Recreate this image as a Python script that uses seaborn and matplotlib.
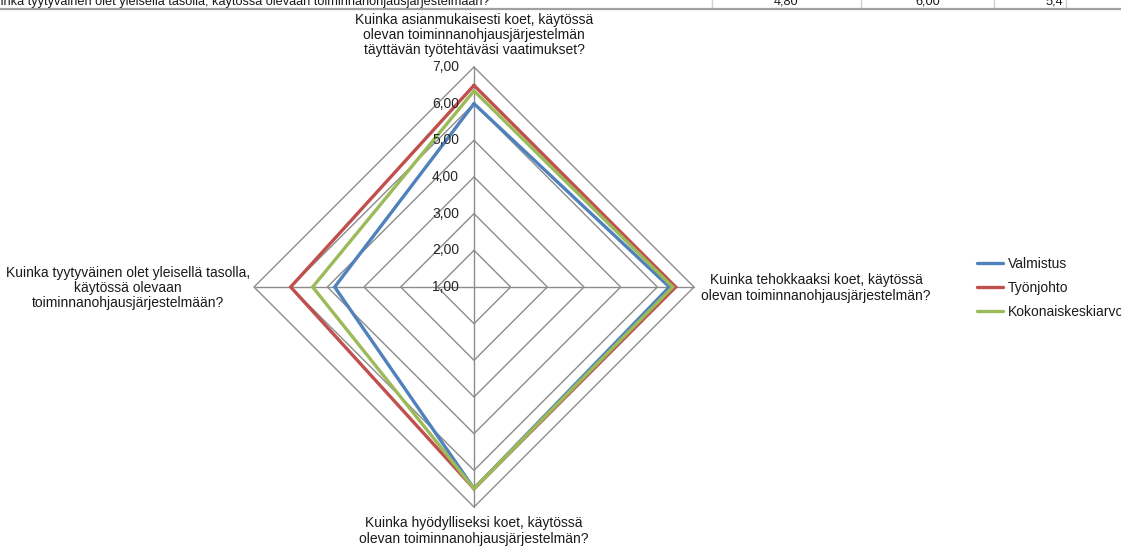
import numpy as np
import pandas as pd
import matplotlib
matplotlib.use("Agg")
import matplotlib.pyplot as plt
from matplotlib.lines import Line2D
import seaborn as sns

# Questions (clockwise from the top)
categories = [
    "Kuinka asianmukaisesti koet, käytössä\nolevan toiminnanohjausjärjestelmän\ntäyttävän työtehtäväsi vaatimukset?",
    "Kuinka tehokkaaksi koet, käytössä\nolevan toiminnanohjausjärjestelmän?",
    "Kuinka hyödylliseksi koet, käytössä\nolevan toiminnanohjausjärjestelmän?",
    "Kuinka tyytyväinen olet yleisellä tasolla,\nkäytössä olevaan\ntoiminnanohjausjärjestelmään?",
]
series_names = ["Valmistus", "Työnjohto", "Kokonaiskeskiarvo"]
valmistus = [6.00, 6.33, 6.50, 4.80]
tyonjohto = [6.50, 6.50, 6.50, 6.00]
kokonaiskeskiarvo = [6.35, 6.42, 6.50, 5.40]
r_ticks = [1, 2, 3, 4, 5, 6, 7]
row_label = "Kuinka tyytyväinen olet yleisellä tasolla, käytössä olevaan toiminnanohjausjärjestelmään?"

colors = {"Valmistus": "#4F81BD", "Työnjohto": "#C0504D", "Kokonaiskeskiarvo": "#9BBB59"}
grid_color = "#8C8C8C"

sns.set_theme(style="white")
plt.rcParams["font.family"] = ["Liberation Sans", "DejaVu Sans"]
plt.rcParams["text.color"] = "#1a1a1a"

W, H = 1121, 547
fig = plt.figure(figsize=(W / 100, H / 100), dpi=100)

def fx(px):
    return px / W

def fy(py):
    return 1 - py / H

ax = fig.add_axes([fx(254), fy(507), fx(440), 440 / H], projection="polar")
ax.set_theta_offset(np.pi / 2)
ax.set_theta_direction(-1)
ax.set_ylim(r_ticks[0], r_ticks[-1])
ax.grid(False)
ax.spines["polar"].set_visible(False)
ax.set_xticks([])
ax.set_yticks([])
ax.patch.set_alpha(0)

n = len(categories)
theta = np.arange(n) * 2 * np.pi / n
theta_closed = np.append(theta, 2 * np.pi)

# Diamond grid and spokes
for r in r_ticks[1:]:
    ax.plot(theta_closed, [r] * (n + 1), color=grid_color, lw=1.0, clip_on=False, zorder=1)
for t in theta:
    ax.plot([t, t], [r_ticks[0], r_ticks[-1]], color=grid_color, lw=1.0, clip_on=False, zorder=1)

# Series data in long form, each polygon closed back to its first point
values = {"Valmistus": valmistus, "Työnjohto": tyonjohto, "Kokonaiskeskiarvo": kokonaiskeskiarvo}
rows = []
for name in series_names:
    v = values[name]
    for t, val in zip(theta_closed, list(v) + [v[0]]):
        rows.append({"theta": t, "value": val, "series": name})
df = pd.DataFrame(rows)

sns.lineplot(data=df, x="theta", y="value", hue="series", hue_order=series_names,
             palette=colors, sort=False, estimator=None, linewidth=2.4,
             legend=False, ax=ax, zorder=3)
for line in ax.lines[-len(series_names):]:
    line.set_clip_on(False)
    line.set_solid_joinstyle("miter")
ax.set_xlabel("")
ax.set_ylabel("")

# Radial value labels beside the vertical axis
for r in r_ticks:
    ax.annotate(f"{r:.2f}".replace(".", ","), xy=(0, r), xytext=(-15, 0),
                textcoords="offset pixels", ha="right", va="center", fontsize=10,
                color="#262626", zorder=5, annotation_clip=False)

# Category labels
fs = 10
fig.text(fx(474), fy(35), categories[0], ha="center", va="center", fontsize=fs, linespacing=1.12)
fig.text(fx(816), fy(288), categories[1], ha="center", va="center", fontsize=fs, linespacing=1.12)
fig.text(fx(474), fy(531), categories[2], ha="center", va="center", fontsize=fs, linespacing=1.12)
fig.text(fx(128), fy(288), categories[3], ha="center", va="center", fontsize=fs, linespacing=1.12)

# Legend
handles = [Line2D([0], [0], color=colors[s], lw=2.4) for s in series_names]
fig.legend(handles, series_names, loc="center left", bbox_to_anchor=(fx(977), fy(288)),
           frameon=False, fontsize=fs, handlelength=1.9, handletextpad=0.35,
           labelspacing=0.72, borderpad=0, borderaxespad=0)

# Spreadsheet row above the chart
fig.text(fx(-15), fy(5), row_label, ha="left", va="baseline", fontsize=9.2, color="#1a1a1a")
cells = [(712, 861, valmistus[3], 2, "center"), (861, 994, tyonjohto[3], 2, "center"),
         (994, 1066, kokonaiskeskiarvo[3], 1, "right")]
for x0, x1, v, dec, align in cells:
    txt = f"{v:.{dec}f}".replace(".", ",")
    xpos = (x0 + x1) / 2 if align == "center" else x1 - 3
    fig.text(fx(xpos), fy(5), txt, ha=align, va="baseline", fontsize=9.2, color="#1a1a1a")
for xv in [712, 861, 994, 1066]:
    fig.add_artist(Line2D([fx(xv), fx(xv)], [fy(0), fy(8)], transform=fig.transFigure,
                          color="#d0d0d0", lw=1.0))
fig.add_artist(Line2D([0, 1], [fy(8.5), fy(8.5)], transform=fig.transFigure,
                      color="#a0a0a0", lw=1.6))

fig.savefig("out.png", dpi=100)
